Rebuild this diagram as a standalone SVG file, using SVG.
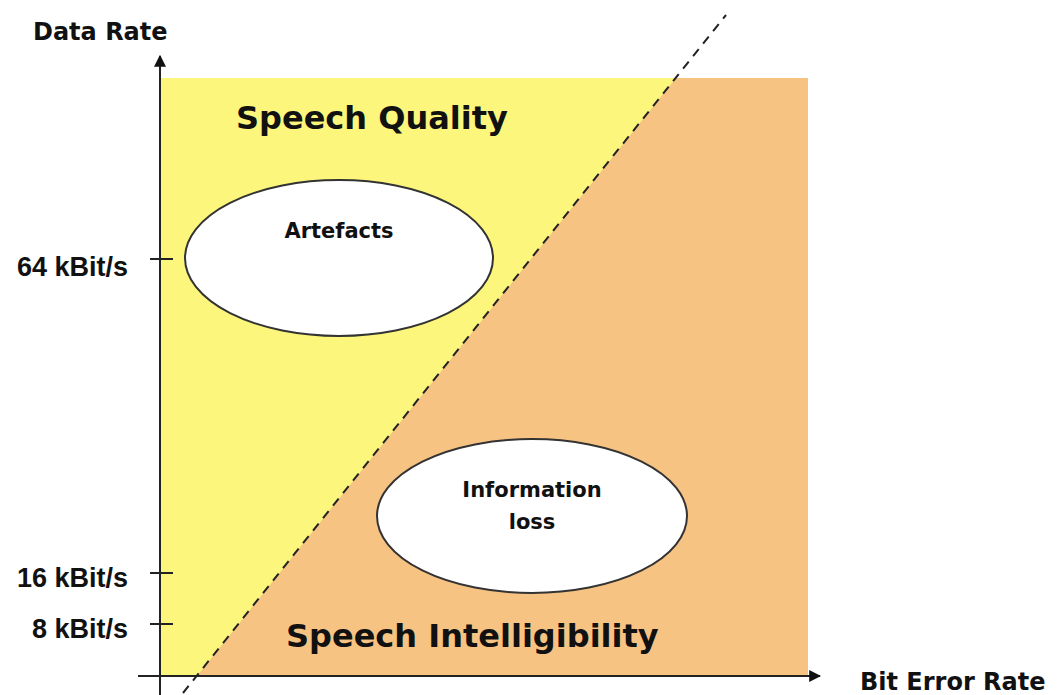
<svg xmlns="http://www.w3.org/2000/svg" width="1061" height="695" viewBox="0 0 1061 695">
<style>
text{font-family:"DejaVu Sans","Liberation Sans",sans-serif;fill:#111;font-weight:bold;}
.lbl{font-size:24px;}
.num{font-family:"Liberation Sans",Arial,sans-serif;font-size:27px;}
.big{font-size:32px;}
.sm{font-size:21px;}
.axis{stroke:#222;stroke-width:2;fill:none;}
.ell{fill:#fff;stroke:#333;stroke-width:2;}
</style>
<defs>
<marker id="arr" viewBox="0 0 10 10" refX="9" refY="5" markerWidth="12" markerHeight="12" markerUnits="userSpaceOnUse" orient="auto">
<path d="M0,0 L10,5 L0,10 z" fill="#111"/>
</marker>
</defs>
<rect id="bg" width="1061" height="695" fill="#fff"/>
<g id="regions">
<rect x="160" y="78" width="648" height="598" fill="#FCF77C"/>
<polygon points="676,78 808,78 808,676 197,676" fill="#F7C382"/>
</g>
<g id="connectors">
<line class="axis" x1="160" y1="695" x2="160" y2="56" marker-end="url(#arr)"/>
<line class="axis" x1="138" y1="676" x2="820" y2="676" marker-end="url(#arr)"/>
<line class="axis" x1="150" y1="259" x2="173" y2="259"/>
<line class="axis" x1="150" y1="573" x2="173" y2="573"/>
<line class="axis" x1="150" y1="624" x2="173" y2="624"/>
<line x1="183" y1="693" x2="726" y2="15" stroke="#222" stroke-width="2" stroke-dasharray="9,7"/>
</g>
<g id="artefacts">
<ellipse class="ell" cx="339" cy="258" rx="154" ry="78"/>
<text class="sm" x="339" y="238" text-anchor="middle">Artefacts</text>
</g>
<g id="information-loss">
<ellipse class="ell" cx="532" cy="516" rx="155" ry="77"/>
<text class="sm" x="532" y="497" text-anchor="middle">Information</text>
<text class="sm" x="532" y="529" text-anchor="middle">loss</text>
</g>
<g id="labels">
<text class="lbl" x="33" y="40">Data Rate</text>
<text class="lbl" x="860" y="690">Bit Error Rate</text>
<text class="num" x="128" y="276" text-anchor="end">64 kBit/s</text>
<text class="num" x="128" y="587" text-anchor="end">16 kBit/s</text>
<text class="num" x="128" y="638" text-anchor="end">8 kBit/s</text>
<text class="big" x="236" y="129">Speech Quality</text>
<text class="big" x="286" y="647">Speech Intelligibility</text>
</g>
</svg>
